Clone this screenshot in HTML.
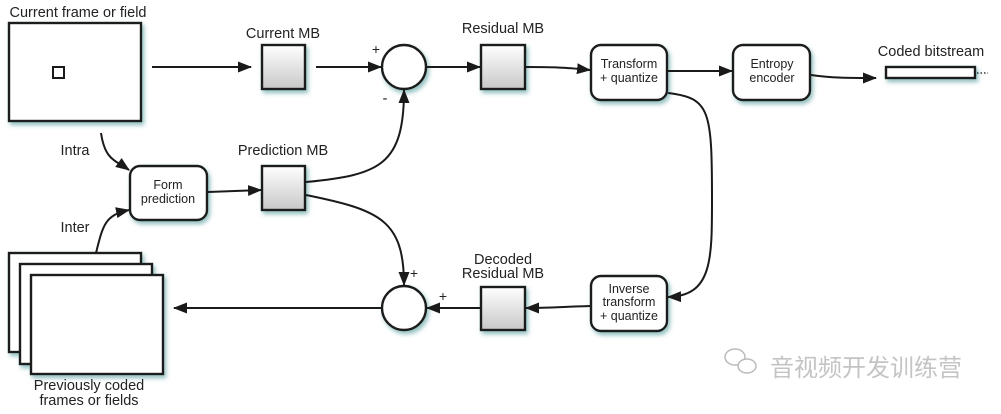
<!DOCTYPE html>
<html><head><meta charset="utf-8"><style>
body{margin:0;background:#fff;}
svg text{font-family:"Liberation Sans","Noto Sans CJK SC",sans-serif;fill:#222;}
</style></head><body>
<svg width="1001" height="409" viewBox="0 0 1001 409" xmlns="http://www.w3.org/2000/svg">
<defs>
<marker id="a" markerWidth="14" markerHeight="11" refX="13" refY="5.5" orient="auto" markerUnits="userSpaceOnUse"><path d="M0,0 L14,5.5 L0,11 Z" fill="#1a1a1a"/></marker>
<linearGradient id="g" x1="0" y1="0" x2="0" y2="1"><stop offset="0" stop-color="#fff"/><stop offset="1" stop-color="#c8c8c8"/></linearGradient>
<filter id="s" x="-20%" y="-20%" width="150%" height="150%"><feDropShadow dx="2" dy="3" stdDeviation="2" flood-color="#3a8a8a" flood-opacity="0.55"/></filter>
</defs>
<g stroke="#1a1a1a" stroke-width="2.4" fill="#fff" filter="url(#s)">
<rect x="9" y="23" width="132" height="98"/>
<rect x="262" y="45" width="43" height="44" fill="url(#g)"/>
<circle cx="404" cy="67" r="22"/>
<rect x="481" y="45" width="44" height="44" fill="url(#g)"/>
<rect x="591" y="45" width="76" height="55" rx="10"/>
<rect x="733" y="45" width="77" height="55" rx="10"/>
<rect x="886" y="67" width="89" height="11"/>
<rect x="130" y="166" width="77" height="54" rx="10"/>
<rect x="262" y="166" width="43" height="44" fill="url(#g)"/>
<rect x="9" y="253" width="132" height="99"/>
<rect x="20" y="264" width="132" height="100"/>
<rect x="31" y="275" width="132" height="99"/>
<circle cx="404" cy="308" r="22"/>
<rect x="481" y="287" width="44" height="43" fill="url(#g)"/>
<rect x="591" y="276" width="76" height="55" rx="10"/>
</g>
<rect x="53" y="67" width="11" height="11" fill="#fff" stroke="#1a1a1a" stroke-width="2"/>
<g stroke="#1a1a1a" stroke-width="2" fill="none" marker-end="url(#a)">
<path d="M152,67 L251,67"/>
<path d="M316,67 L381,67"/>
<path d="M427,67 L480,67"/>
<path d="M526,67 C560,67 570,68 590,70"/>
<path d="M668,71 L732,71"/>
<path d="M811,75 C830,78 850,78 876,78"/>
<path d="M101,133 C105,160 115,160 129,170"/>
<path d="M96,253 C103,225 105,215 129,210"/>
<path d="M208,192 L261,190"/>
<path d="M306,182 C380,175 404,165 404,90"/>
<path d="M306,195 C380,210 404,220 404,285"/>
<path d="M668,93 C710,98 712,110 712,200 C712,260 712,296 668,297"/>
<path d="M590,306 C560,307 545,308 526,308"/>
<path d="M480,308 L427,308"/>
<path d="M381,308 L174,308"/>
</g>
<path d="M977,73 L988,73" stroke="#333" stroke-width="1.5" stroke-dasharray="1.5,2"/>
<g font-size="14.5" text-anchor="middle">
<text x="78" y="17">Current frame or field</text>
<text x="283" y="38">Current MB</text>
<text x="503" y="33">Residual MB</text>
<text x="931" y="56">Coded bitstream</text>
<text x="283" y="155">Prediction MB</text>
<text x="75" y="155">Intra</text>
<text x="75" y="232">Inter</text>
<text x="503" y="264">Decoded</text>
<text x="503" y="278">Residual MB</text>
<text x="89" y="390">Previously coded</text>
<text x="89" y="405">frames or fields</text>
<text x="376" y="54" font-size="14">+</text>
<text x="385" y="103" font-size="15">-</text>
<text x="414" y="278" font-size="14">+</text>
<text x="443" y="301" font-size="14">+</text>
</g>
<g font-size="12.5" text-anchor="middle">
<text x="629" y="68">Transform</text>
<text x="629" y="82">+ quantize</text>
<text x="772" y="68">Entropy</text>
<text x="772" y="82">encoder</text>
<text x="168" y="189">Form</text>
<text x="168" y="203">prediction</text>
<text x="629" y="293">Inverse</text>
<text x="629" y="306">transform</text>
<text x="629" y="320">+ quantize</text>
</g>
<g stroke="#bbb" stroke-width="1.5" fill="#fff">
<ellipse cx="735" cy="357" rx="10" ry="8"/>
<ellipse cx="747" cy="366" rx="9" ry="7"/>
</g>
<text x="770" y="376" font-size="24" style="fill:#c4c4c4">音视频开发训练营</text>
</svg>
</body></html>
